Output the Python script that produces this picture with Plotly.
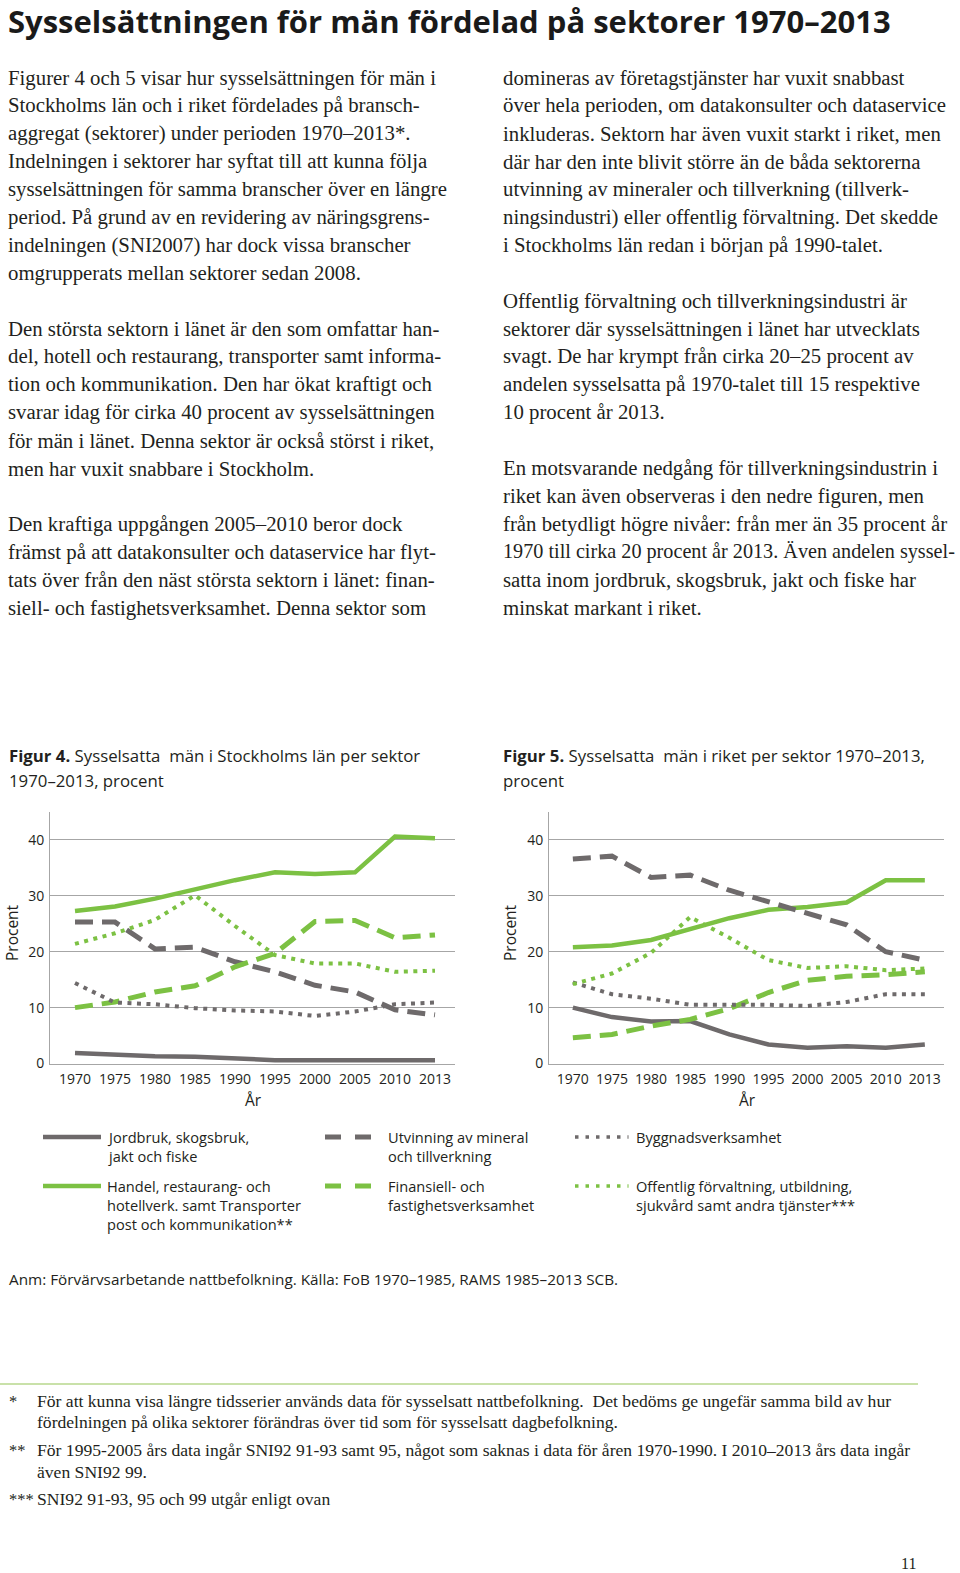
import plotly.graph_objects as go

W, H = 960, 1573

years = ["1970", "1975", "1980", "1985", "1990", "1995", "2000", "2005", "2010", "2013"]

# Figur 4 – Stockholms län (procent)
sthlm_jordbruk = [1.9, 1.6, 1.3, 1.2, 0.9, 0.6, 0.6, 0.6, 0.4, 0.6]
sthlm_handel = [27.3, 28.1, 29.5, 31.2, 32.8, 34.2, 33.9, 34.2, 40.6, 40.3]
sthlm_utvinning = [25.3, 25.3, 20.5, 20.8, 18.2, 16.4, 14.0, 12.8, 9.6, 8.7]
sthlm_bygg = [14.4, 10.9, 10.6, 9.9, 9.5, 9.3, 8.5, 9.3, 10.6, 10.9]
sthlm_finans = [10.0, 11.0, 12.8, 13.9, 17.3, 19.7, 25.4, 25.6, 22.5, 23.0]
sthlm_offentlig = [21.4, 23.3, 25.7, 30.1, 24.6, 19.4, 17.9, 17.9, 16.4, 16.6]

# Figur 5 – riket (procent)
riket_jordbruk = [10.0, 8.3, 7.5, 7.6, 5.2, 3.4, 2.8, 3.1, 2.8, 3.4]
riket_handel = [20.8, 21.1, 22.1, 24.0, 26.0, 27.5, 28.0, 28.8, 32.8, 32.8]
riket_utvinning = [36.6, 37.1, 33.3, 33.7, 31.0, 28.9, 26.8, 24.8, 20.0, 18.5]
riket_bygg = [14.5, 12.4, 11.6, 10.5, 10.5, 10.5, 10.3, 11.0, 12.4, 12.4]
riket_finans = [4.6, 5.2, 6.7, 7.9, 9.8, 12.7, 14.9, 15.6, 15.9, 16.4]
riket_offentlig = [14.2, 16.1, 19.8, 26.2, 22.5, 18.5, 17.1, 17.4, 16.7, 17.0]

sector_names = [
    "Jordbruk, skogsbruk,<br>jakt och fiske",
    "Handel, restaurang- och<br>hotellverk. samt Transporter<br>post och kommunikation**",
    "Utvinning av mineral<br>och tillverkning",
    "Finansiell- och<br>fastighetsverksamhet",
    "Byggnadsverksamhet",
    "Offentlig förvaltning, utbildning,<br>sjukvård samt andra tjänster***",
]

y_ticks = [0, 10, 20, 30, 40]

title_text = "Sysselsättningen för män fördelad på sektorer 1970–2013"

left_col = [
    (0, "Figurer 4 och 5 visar hur sysselsättningen för män i"),
    (1, "Stockholms län och i riket fördelades på bransch-"),
    (2, "aggregat (sektorer) under perioden 1970–2013*."),
    (3, "Indelningen i sektorer har syftat till att kunna följa"),
    (4, "sysselsättningen för samma branscher över en längre"),
    (5, "period. På grund av en revidering av näringsgrens-"),
    (6, "indelningen (SNI2007) har dock vissa branscher"),
    (7, "omgrupperats mellan sektorer sedan 2008."),
    (9, "Den största sektorn i länet är den som omfattar han-"),
    (10, "del, hotell och restaurang, transporter samt informa-"),
    (11, "tion och kommunikation. Den har ökat kraftigt och"),
    (12, "svarar idag för cirka 40 procent av sysselsättningen"),
    (13, "för män i länet. Denna sektor är också störst i riket,"),
    (14, "men har vuxit snabbare i Stockholm."),
    (16, "Den kraftiga uppgången 2005–2010 beror dock"),
    (17, "främst på att datakonsulter och dataservice har flyt-"),
    (18, "tats över från den näst största sektorn i länet: finan-"),
    (19, "siell- och fastighetsverksamhet. Denna sektor som"),
]
right_col = [
    (0, "domineras av företagstjänster har vuxit snabbast"),
    (1, "över hela perioden, om datakonsulter och dataservice"),
    (2, "inkluderas. Sektorn har även vuxit starkt i riket, men"),
    (3, "där har den inte blivit större än de båda sektorerna"),
    (4, "utvinning av mineraler och tillverkning (tillverk-"),
    (5, "ningsindustri) eller offentlig förvaltning. Det skedde"),
    (6, "i Stockholms län redan i början på 1990-talet."),
    (8, "Offentlig förvaltning och tillverkningsindustri är"),
    (9, "sektorer där sysselsättningen i länet har utvecklats"),
    (10, "svagt. De har krympt från cirka 20–25 procent av"),
    (11, "andelen sysselsatta på 1970-talet till 15 respektive"),
    (12, "10 procent år 2013."),
    (14, "En motsvarande nedgång för tillverkningsindustrin i"),
    (15, "riket kan även observeras i den nedre figuren, men"),
    (16, "från betydligt högre nivåer: från mer än 35 procent år"),
    (17, "1970 till cirka 20 procent år 2013. Även andelen syssel-"),
    (18, "satta inom jordbruk, skogsbruk, jakt och fiske har"),
    (19, "minskat markant i riket."),
]

footnotes = [
    ("*", ["För att kunna visa längre tidsserier används data för sysselsatt nattbefolkning.  Det bedöms ge ungefär samma bild av hur",
           "fördelningen på olika sektorer förändras över tid som för sysselsatt dagbefolkning."]),
    ("**", ["För 1995-2005 års data ingår SNI92 91-93 samt 95, något som saknas i data för åren 1970-1990. I 2010–2013 års data ingår",
            "även SNI92 99."]),
    ("***", ["SNI92 91-93, 95 och 99 utgår enligt ovan"]),
]

GRAY = "#6e6a6b"
GREEN = "#7cc143"
GRID = "#a6a6a6"
TXT = "#231f20"
SERIF = "Liberation Serif, DejaVu Serif, serif"
SANS = "Open Sans, Noto Sans, sans-serif"

styles = [
    dict(color=GRAY, width=4.5, dash="solid"),
    dict(color=GREEN, width=4.5, dash="solid"),
    dict(color=GRAY, width=5, dash="18px,9px"),
    dict(color=GREEN, width=5, dash="18px,9px"),
    dict(color=GRAY, width=4, dash="4px,5.5px"),
    dict(color=GREEN, width=4, dash="4px,5.5px"),
]

sthlm = [sthlm_jordbruk, sthlm_handel, sthlm_utvinning, sthlm_finans, sthlm_bygg, sthlm_offentlig]
riket = [riket_jordbruk, riket_handel, riket_utvinning, riket_finans, riket_bygg, riket_offentlig]


def px(x):
    return x / W


def py(y):
    return 1 - y / H


fig = go.Figure()
for i, vals in enumerate(sthlm):
    fig.add_trace(go.Scatter(x=years, y=vals, mode="lines", line=styles[i],
                             name=sector_names[i], showlegend=False, xaxis="x", yaxis="y"))
for i, vals in enumerate(riket):
    fig.add_trace(go.Scatter(x=years, y=vals, mode="lines", line=styles[i],
                             name=sector_names[i], showlegend=False, xaxis="x2", yaxis="y2"))

axis_common_x = dict(type="category", showgrid=False, showline=True, linecolor=GRID, linewidth=1,
                     ticks="", ticklabelstandoff=3,
                     tickfont=dict(family=SANS, size=14, color=TXT), zeroline=False,
                     automargin=False, fixedrange=True)
axis_common_y = dict(range=[0, 45], tickvals=y_ticks, showgrid=True, gridcolor=GRID, gridwidth=1,
                     showline=True, linecolor=GRID, linewidth=1, zeroline=False, ticks="",
                     ticklabelstandoff=2, automargin=False,
                     tickfont=dict(family=SANS, size=14, color=TXT), fixedrange=True)

ybot, ytop = py(1063.5), py(812)
fig.update_layout(
    width=W, height=H, autosize=False,
    margin=dict(l=0, r=0, t=0, b=0, pad=0, autoexpand=False),
    paper_bgcolor="white", plot_bgcolor="white",
    showlegend=False,
    xaxis=dict(domain=[px(50), px(455)], range=[-0.625, 9.5], anchor="y", **axis_common_x),
    yaxis=dict(domain=[ybot, ytop], anchor="x", **axis_common_y),
    xaxis2=dict(domain=[px(549), px(944)], range=[-0.61, 9.49], anchor="y2", **axis_common_x),
    yaxis2=dict(domain=[ybot, ytop], anchor="x2", **axis_common_y),
)

ann = []


def text(x, y, s, size, family=SANS, color=TXT, xanchor="left", **kw):
    ann.append(dict(x=px(x), y=py(y), xref="paper", yref="paper", text=s, showarrow=False,
                    xanchor=xanchor, yanchor="middle",
                    font=dict(family=family, size=size, color=color), **kw))


# Title
text(6, 20.5, "<b>" + title_text + "</b>", 31, color="#1a1a1a")

# Body columns
BODY = 20.8
for k, s in left_col:
    text(6, 77.5 + k * 27.9, s, BODY, family=SERIF)
for k, s in right_col:
    size = BODY if len(s) < 55 else 20.2
    text(501, 77.5 + k * 27.9, s, size, family=SERIF)

# Figure captions
text(7, 755, "<b>Figur 4.</b> Sysselsatta  män i Stockholms län per sektor", 16.8)
text(7, 781, "1970–2013, procent", 16.8)
text(501, 755, "<b>Figur 5.</b> Sysselsatta  män i riket per sektor 1970–2013,", 16.8)
text(501, 781, "procent", 16.8)

# Axis titles
text(253, 1100, "År", 15.5, xanchor="center")
text(747, 1100, "År", 15.5, xanchor="center")
text(12, 933, "Procent", 15.5, xanchor="center", textangle=-90)
text(510, 933, "Procent", 15.5, xanchor="center", textangle=-90)

# Legend (samples as shapes, labels as text)
shapes = []
leg_pos = [
    (43, 101, 105, 1137, 0),
    (43, 101, 105, 1186, 1),
    (325, 375, 386, 1137, 2),
    (325, 375, 386, 1186, 3),
    (575, 628.5, 634, 1137, 4),
    (575, 628.5, 634, 1186, 5),
]
leg_dash = ["solid", "solid", "16px,14px", "16px,14px", "3.5px,7px", "3.5px,7px"]
leg_w = [4.5, 4.5, 5, 5, 3.5, 3.5]
LEG_FS = 14.6
for x0, x1, tx, yy, i in leg_pos:
    shapes.append(dict(type="line", xref="paper", yref="paper", x0=px(x0), x1=px(x1),
                       y0=py(yy), y1=py(yy),
                       line=dict(color=styles[i]["color"], width=leg_w[i], dash=leg_dash[i])))
    ann.append(dict(x=px(tx), y=py(yy - 12), xref="paper", yref="paper", text=sector_names[i],
                    showarrow=False, xanchor="left", yanchor="top", align="left",
                    font=dict(family=SANS, size=LEG_FS, color=TXT)))

# Note
text(7, 1279, "Anm: Förvärvsarbetande nattbefolkning. Källa: FoB 1970–1985, RAMS 1985–2013 SCB.", 15.3)

# Separator line
shapes.append(dict(type="line", xref="paper", yref="paper", x0=0, x1=px(918), y0=py(1384), y1=py(1384),
                   line=dict(color="#c9e1a9", width=2)))

# Footnotes
fy = [[1401, 1422], [1450, 1472], [1499]]
for (mark, lines), ys in zip(footnotes, fy):
    text(7, ys[0], mark, 16.5, family=SERIF)
    for s, yy in zip(lines, ys):
        text(35, yy, s, 17.6, family=SERIF)

# Page number
text(908, 1563, "11", 16, family=SERIF, xanchor="center")

fig.update_layout(annotations=ann, shapes=shapes)
fig.write_html("out.html", config={"displayModeBar": False},
               post_script="document.body.style.margin='0';document.body.style.padding='0';")
